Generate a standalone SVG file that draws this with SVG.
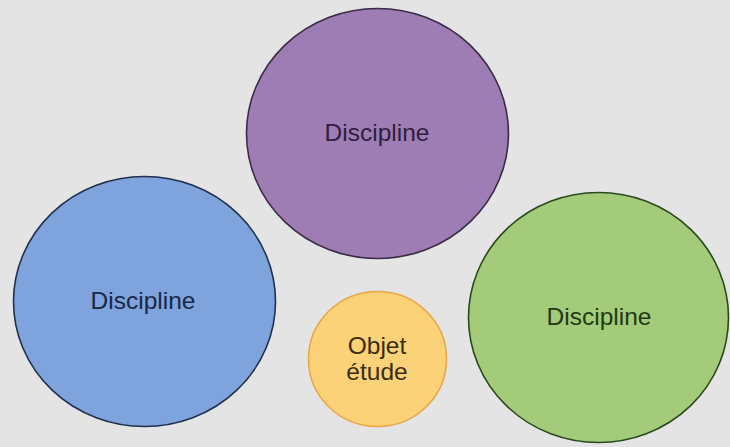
<svg xmlns="http://www.w3.org/2000/svg" width="730" height="447" viewBox="0 0 730 447">
<style>
text{font-family:"Liberation Sans",Arial,sans-serif;font-size:24.5px;text-anchor:middle}
.c{stroke-width:1.6}
</style>
<rect width="730" height="447" fill="#e4e4e4"/>
<g id="purple">
<ellipse class="c" cx="377.5" cy="133.5" rx="131" ry="125" fill="#9d7db4" stroke="#3b2b47"/>
<text x="377" y="141" fill="#2f1d3d">Discipline</text>
</g>
<g id="blue">
<ellipse class="c" cx="144.5" cy="301.5" rx="131" ry="125" fill="#7fa3dc" stroke="#20304d"/>
<text x="143" y="309" fill="#182846">Discipline</text>
</g>
<g id="green">
<ellipse class="c" cx="598.5" cy="317.5" rx="130" ry="125" fill="#a3cb7a" stroke="#2a4a1c"/>
<text x="599" y="325" fill="#1f3a14">Discipline</text>
</g>
<g id="yellow">
<ellipse class="c" cx="377.5" cy="359" rx="69" ry="67.5" fill="#fbd277" stroke="#eaa746"/>
<text x="377" y="354" fill="#3a2c0c">Objet</text>
<text x="377" y="380" fill="#3a2c0c">étude</text>
</g>
<g id="connectors"/>
</svg>
